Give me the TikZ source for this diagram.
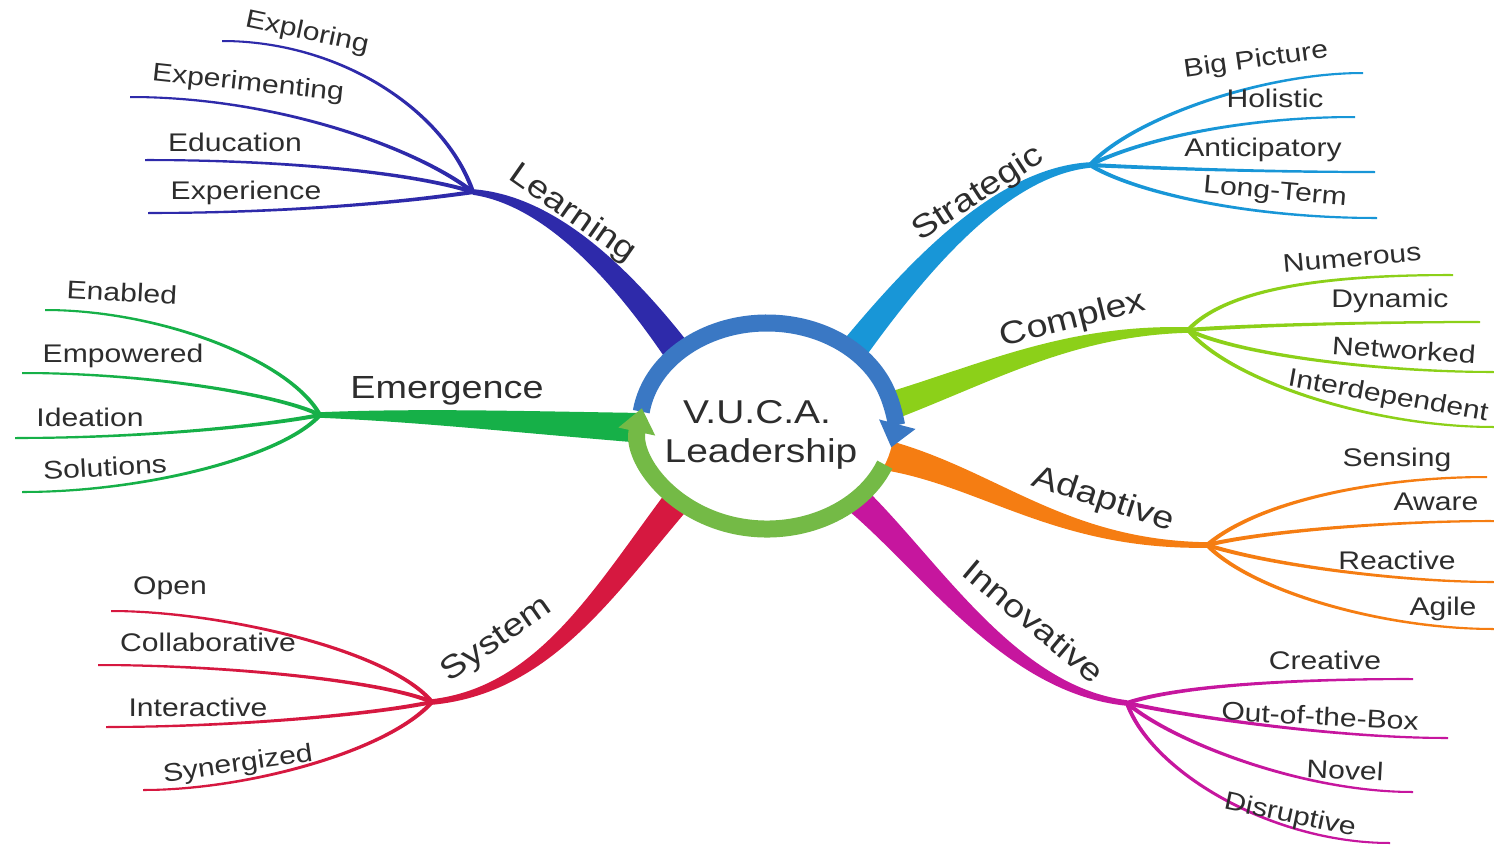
\documentclass[tikz,border=0pt]{standalone}
\usepackage{fontspec}
\setmainfont[FakeStretch=1.18]{Liberation Sans}
\usetikzlibrary{calc,arrows.meta}
\definecolor{cLearn}{RGB}{46,42,170}
\definecolor{cStrat}{RGB}{24,150,215}
\definecolor{cComp}{RGB}{140,208,25}
\definecolor{cAdapt}{RGB}{245,125,18}
\definecolor{cInnov}{RGB}{198,22,158}
\definecolor{cSys}{RGB}{214,24,64}
\definecolor{cEmerg}{RGB}{22,176,72}
\definecolor{ringblue}{RGB}{58,120,196}
\definecolor{ringgreen}{RGB}{116,186,70}
\definecolor{txt}{RGB}{45,45,45}
% tapered curve: color, P0, C1, C2, P3, half width at P0, half width at P3
\newcommand\taper[7]{%
  \pgfmathsetmacro\twa{(2*#6+#7)/3}%
  \pgfmathsetmacro\twb{(#6+2*#7)/3}%
  \fill[#1] ($(#2)!#6pt!90:(#3)$) .. controls ($(#3)!\twa pt!90:(#4)$) and ($(#4)!\twb pt!-90:(#3)$) .. ($(#5)!#7pt!-90:(#4)$)
    -- ($(#5)!#7pt!90:(#4)$) .. controls ($(#4)!\twb pt!90:(#3)$) and ($(#3)!\twa pt!-90:(#4)$) .. ($(#2)!#6pt!-90:(#3)$) -- cycle;%
}
% leaf: color, hub, name, end point, C1, C2, label pos, rotation, text
\newcommand\leaf[9]{%
  \coordinate (#3) at (#4);
  \taper{#1}{#2}{#5}{#6}{#3}{2.1}{1.0}
  \node[leaflabel, rotate=#8] (#3-t) at (#7) {#9};
}
\begin{document}
\begin{tikzpicture}[x=1pt,y=-1pt,
  leaflabel/.style={font=\fontsize{25.5}{28}\selectfont, text=txt, inner sep=0pt},
  mainlabel/.style={font=\fontsize{32}{36}\selectfont, text=txt, inner sep=0pt}]
\useasboundingbox (0,0) rectangle (1494,846);
\coordinate (C) at (767,426);
% ---------- main branches ----------
\coordinate (L0) at (680,355); \coordinate (LH) at (473,192);
\coordinate (S0) at (851,353); \coordinate (SH) at (1090,165);
\coordinate (X0) at (888,407); \coordinate (XH) at (1188,330);
\coordinate (A0) at (885,455); \coordinate (AH) at (1207,545);
\coordinate (I0) at (854,497); \coordinate (IH) at (1127,703);
\coordinate (Y0) at (680,497); \coordinate (YH) at (432,702);
\coordinate (E0) at (644,428); \coordinate (EH) at (320,415);

\taper{cLearn}{L0}{615,265}{545,200}{LH}{14}{2.8}
\taper{cStrat}{S0}{915,270}{1000,172}{SH}{14}{2.8}
\taper{cComp}{X0}{990,372}{1070,330}{XH}{14}{2.8}
\taper{cAdapt}{A0}{990,478}{1060,545}{AH}{15}{2.8}
\taper{cInnov}{I0}{930,565}{1010,690}{IH}{14}{2.8}
\taper{cSys}{Y0}{605,590}{545,690}{YH}{14}{2.8}
\taper{cEmerg}{E0}{520,422}{420,415}{EH}{15}{2.8}

\node[mainlabel, rotate=-35] (Lt) at (572,214) {Learning};
\node[mainlabel, rotate=33] (St) at (978,194) {Strategic};
\node[mainlabel, rotate=14] (Xt) at (1073,320) {Complex};
\node[mainlabel, rotate=-18] (At) at (1103,500) {Adaptive};
\node[mainlabel, rotate=-40] (It) at (1034,621) {Innovative};
\node[mainlabel, rotate=35] (Yt) at (497,640) {System};
\node[mainlabel] (Et) at (447,391) {Emergence};

% ---------- leaves ----------
% Learning
\leaf{cLearn}{LH}{l1}{222,41}{445,110}{340,41}{307,33}{-12}{Exploring}
\leaf{cLearn}{LH}{l2}{130,97}{420,150}{280,97}{248,84}{-6}{Experimenting}
\leaf{cLearn}{LH}{l3}{145,160}{420,175}{300,160}{235,142}{0}{Education}
\leaf{cLearn}{LH}{l4}{148,213}{420,200}{300,213}{246,193}{0}{Experience}
% Strategic
\leaf{cStrat}{SH}{s1}{1363,73}{1130,120}{1260,73}{1256,61}{8}{Big Picture}
\leaf{cStrat}{SH}{s2}{1355,117}{1140,140}{1240,117}{1275,98}{0}{Holistic}
\leaf{cStrat}{SH}{s3}{1375,172}{1150,168}{1260,172}{1263,150}{0}{Anticipatory}
\leaf{cStrat}{SH}{s4}{1377,218}{1130,190}{1240,218}{1275,193}{-5}{Long-Term}
% Complex
\leaf{cComp}{XH}{x1}{1453,275}{1230,285}{1340,275}{1352,258}{5}{Numerous}
\leaf{cComp}{XH}{x2}{1480,322}{1250,325}{1380,322}{1390,301}{0}{Dynamic}
\leaf{cComp}{XH}{x3}{1494,372}{1240,355}{1380,372}{1404,350}{-4}{Networked}
\leaf{cComp}{XH}{x4}{1494,427}{1230,380}{1370,427}{1388,397}{-10}{Interdependent}
% Adaptive
\leaf{cAdapt}{AH}{a1}{1487,477}{1260,500}{1380,477}{1397,460}{0}{Sensing}
\leaf{cAdapt}{AH}{a2}{1494,521}{1270,530}{1400,521}{1436,502}{0}{Aware}
\leaf{cAdapt}{AH}{a3}{1494,582}{1270,565}{1400,582}{1397,560}{0}{Reactive}
\leaf{cAdapt}{AH}{a4}{1494,629}{1250,590}{1380,629}{1443,609}{0}{Agile}
% Innovative
\leaf{cInnov}{IH}{i1}{1413,679}{1180,685}{1300,679}{1325,660}{0}{Creative}
\leaf{cInnov}{IH}{i2}{1448,738}{1180,715}{1330,738}{1320,716}{-3}{Out-of-the-Box}
\leaf{cInnov}{IH}{i3}{1413,792}{1170,740}{1300,792}{1345,770}{-3}{Novel}
\leaf{cInnov}{IH}{i4}{1390,843}{1150,770}{1270,843}{1290,816}{-12}{Disruptive}
% System
\leaf{cSys}{YH}{y1}{111,611}{390,650}{220,611}{170,588}{0}{Open}
\leaf{cSys}{YH}{y2}{98,665}{380,680}{220,665}{208,642}{0}{Collaborative}
\leaf{cSys}{YH}{y3}{106,727}{370,715}{230,727}{198,707}{0}{Interactive}
\leaf{cSys}{YH}{y4}{143,790}{390,750}{250,790}{238,765}{8}{Synergized}
% Emergence
\leaf{cEmerg}{EH}{e1}{45,310}{290,360}{160,310}{122,292}{-3}{Enabled}
\leaf{cEmerg}{EH}{e2}{22,373}{280,395}{150,373}{123,356}{0}{Empowered}
\leaf{cEmerg}{EH}{e3}{15,438}{270,425}{150,438}{90,417}{0}{Ideation}
\leaf{cEmerg}{EH}{e4}{22,492}{285,455}{150,492}{105,467}{3}{Solutions}

% ---------- centre ring ----------
\fill[white] (C) ellipse [x radius=127, y radius=103];
\draw[ringblue, line width=17pt, -{Triangle[width=36pt,length=24pt]}]
  ($(C)+(-172:127 and 103)$) arc[start angle=-172, end angle=12, x radius=127, y radius=103];
\draw[ringgreen, line width=17pt, -{Triangle[width=36pt,length=24pt]}]
  ($(C)+(22:127 and 103)$) arc[start angle=22, end angle=190, x radius=127, y radius=103];
\node[font=\fontsize{33}{36}\selectfont, text=txt, inner sep=0pt, anchor=base] (v) at (757,423) {V.U.C.A.};
\node[font=\fontsize{33}{36}\selectfont, text=txt, inner sep=0pt, anchor=base] (lead) at (761,462) {Leadership};
\end{tikzpicture}
\end{document}
